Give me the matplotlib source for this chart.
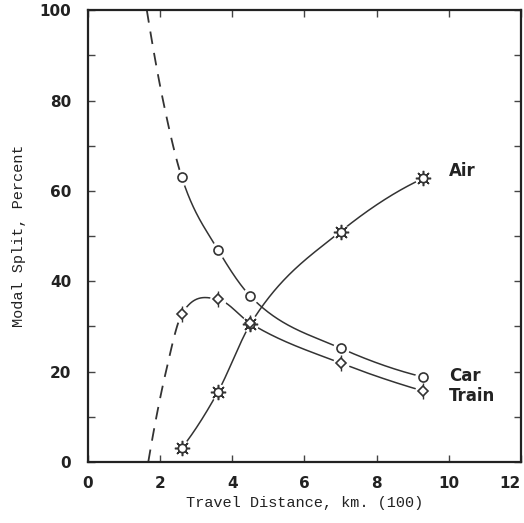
import numpy as np
import matplotlib
matplotlib.use("Agg")
import matplotlib.pyplot as plt

# Observed data points
dist = [2.6, 3.6, 4.5, 7.0, 9.3]
car = [63, 47, 36.7, 25.2, 18.8]
train = [32.7, 36.0, 30.7, 21.9, 15.7]
air = [3.1, 15.5, 30.5, 51.0, 62.8]

# Dashed extrapolations
car_ext_x = [1.63, 2.08]
car_ext_y = [100, 80]
train_ext_x = [1.67, 2.16]
train_ext_y = [0, 20]

xticks = [0, 2, 4, 6, 8, 10, 12]
yticks = [0, 20, 40, 60, 80, 100]


def smooth_curve(xs, ys, n=400):
    """Hermite curve through the points (blend of three-point and monotone slopes)."""
    x = np.asarray(xs, float)
    y = np.asarray(ys, float)
    h = np.diff(x)
    d = np.diff(y) / h
    m = np.zeros_like(y)
    for k in range(1, len(x) - 1):
        m3 = (h[k] * d[k - 1] + h[k - 1] * d[k]) / (h[k - 1] + h[k])
        if d[k - 1] * d[k] > 0:
            w1 = 2 * h[k] + h[k - 1]
            w2 = h[k] + 2 * h[k - 1]
            mp = (w1 + w2) / (w1 / d[k - 1] + w2 / d[k])
            m[k] = 0.5 * (m3 + mp)
        else:
            m[k] = m3
    m[0] = ((2 * h[0] + h[1]) * d[0] - h[0] * d[1]) / (h[0] + h[1])
    m[-1] = ((2 * h[-1] + h[-2]) * d[-1] - h[-1] * d[-2]) / (h[-1] + h[-2])
    xx = np.linspace(x[0], x[-1], n)
    idx = np.clip(np.searchsorted(x, xx) - 1, 0, len(x) - 2)
    t = (xx - x[idx]) / h[idx]
    h00 = 2 * t ** 3 - 3 * t ** 2 + 1
    h10 = t ** 3 - 2 * t ** 2 + t
    h01 = -2 * t ** 3 + 3 * t ** 2
    h11 = t ** 3 - t ** 2
    yy = h00 * y[idx] + h10 * h[idx] * m[idx] + h01 * y[idx + 1] + h11 * h[idx] * m[idx + 1]
    return xx, yy


fig = plt.figure(figsize=(5.24, 5.23), dpi=100)
ax = fig.add_axes([0.168, 0.1166, 0.826, 0.864])
ax.set_xlim(0, 12)
ax.set_ylim(0, 100)

lc = "#333333"
dash = (0, (7, 5))
x0 = dist[0]

cx, cy = smooth_curve(car_ext_x + dist, car_ext_y + car)
ax.plot(cx[cx >= x0], cy[cx >= x0], color=lc, lw=1.1, zorder=2)
ax.plot(cx[cx <= x0], cy[cx <= x0], color=lc, lw=1.3, ls=dash, zorder=2)

tx, ty = smooth_curve(train_ext_x + dist, train_ext_y + train)
ax.plot(tx[tx >= x0], ty[tx >= x0], color=lc, lw=1.1, zorder=2)
ax.plot(tx[tx <= x0], ty[tx <= x0], color=lc, lw=1.3, ls=dash, zorder=2)

axx, ayy = smooth_curve(dist, air)
ax.plot(axx, ayy, color=lc, lw=1.1, zorder=2)

# markers: white halos to create gaps
for ys in (car, train, air):
    ax.plot(dist, ys, ls="none", marker="o", ms=11, mfc="white", mec="white", zorder=3)

# air: sun symbols
ax.plot(dist, air, ls="none", marker=(8, 2, 0), ms=11, mec=lc, mew=1.1, zorder=4)
ax.plot(dist, air, ls="none", marker="o", ms=6, mfc="white", mec=lc, mew=1.2, zorder=5)
# train: diamonds with stems
ax.plot(dist, train, ls="none", marker="|", ms=11, mec=lc, mew=1.0, zorder=4)
ax.plot(dist, train, ls="none", marker="D", ms=5.2, mfc="white", mec=lc, mew=1.2, zorder=5)
# car: open circles
ax.plot(dist, car, ls="none", marker="o", ms=6.5, mfc="white", mec=lc, mew=1.2, zorder=5)

# labels
lab_kw = dict(fontsize=12, fontweight="bold", color="#222222", family="DejaVu Sans", va="center", ha="left")
ax.text(10.0, 64.5, "Air", **lab_kw)
ax.text(10.0, 19.0, "Car", **lab_kw)
ax.text(10.0, 14.5, "Train", **lab_kw)

ax.set_xticks(xticks)
ax.set_yticks(yticks)
ax.set_yticks(np.arange(10, 100, 20), minor=True)
ax.set_xticklabels([str(v) for v in xticks], fontsize=11, color="#222222", fontweight="bold")
ax.set_yticklabels([str(v) for v in yticks], fontsize=11, color="#222222", fontweight="bold")
xl = ax.get_xticklabels()
xl[-1].set_horizontalalignment("right")
ax.tick_params(which="both", direction="in", top=True, right=True, length=5, width=1, color="#444444")
ax.tick_params(axis="y", pad=12)
ax.tick_params(axis="x", pad=10)
for s in ax.spines.values():
    s.set_linewidth(1.6)
    s.set_color("#222222")

ax.set_xlabel("Travel Distance, km. (100)", family="Liberation Mono", fontsize=11, color="#222222", labelpad=4)
ax.set_ylabel("Modal Split, Percent", family="Liberation Mono", fontsize=11, color="#222222", labelpad=10)

fig.savefig("out.png", dpi=100)
